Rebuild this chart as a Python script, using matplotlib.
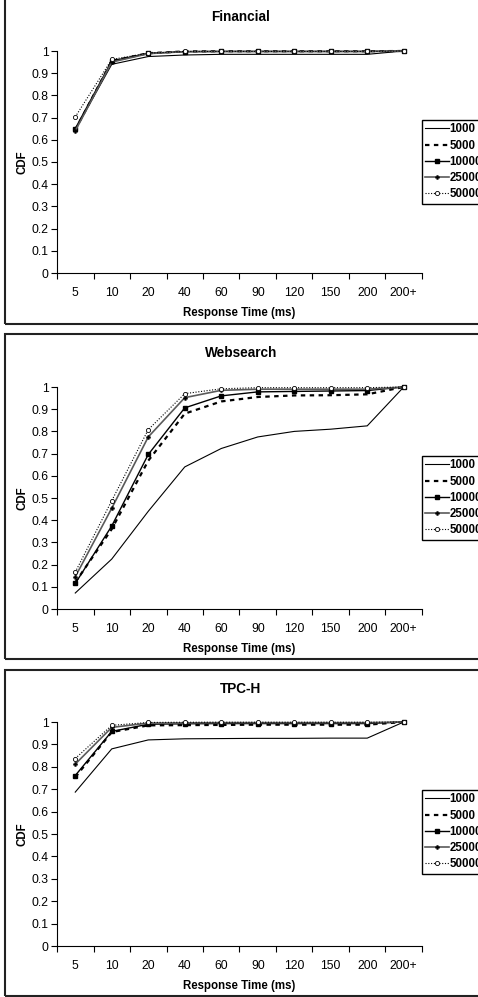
import matplotlib
matplotlib.use('Agg')
import matplotlib.pyplot as plt
from matplotlib.patches import Rectangle
import numpy as np

plt.rcParams['font.family'] = ['Liberation Sans', 'DejaVu Sans']

# categories on the x axis
cats = ['5', '10', '20', '40', '60', '90', '120', '150', '200', '200+']
series_names = ['1000', '5000', '10000', '25000', '50000']

# Financial
fin_1000 = [0.645, 0.940, 0.975, 0.982, 0.985, 0.985, 0.985, 0.985, 0.985, 1.0]
fin_5000 = [0.645, 0.955, 0.990, 0.998, 0.999, 0.999, 0.999, 0.999, 0.999, 1.0]
fin_10000 = [0.650, 0.955, 0.990, 0.997, 0.998, 0.998, 0.998, 0.998, 0.998, 1.0]
fin_25000 = [0.640, 0.950, 0.988, 0.997, 0.998, 0.998, 0.998, 0.998, 0.998, 1.0]
fin_50000 = [0.703, 0.962, 0.990, 0.998, 0.998, 0.998, 0.998, 0.998, 0.998, 1.0]

# Websearch
web_1000 = [0.072, 0.225, 0.440, 0.640, 0.723, 0.775, 0.800, 0.810, 0.825, 1.0]
web_5000 = [0.120, 0.360, 0.668, 0.880, 0.935, 0.955, 0.962, 0.963, 0.967, 1.0]
web_10000 = [0.115, 0.374, 0.696, 0.906, 0.960, 0.978, 0.980, 0.982, 0.984, 1.0]
web_25000 = [0.145, 0.454, 0.775, 0.952, 0.985, 0.990, 0.990, 0.990, 0.990, 1.0]
web_50000 = [0.166, 0.488, 0.808, 0.970, 0.992, 0.997, 0.997, 0.997, 0.997, 1.0]

# TPC-H
tpc_1000 = [0.687, 0.880, 0.920, 0.925, 0.926, 0.927, 0.927, 0.928, 0.928, 1.0]
tpc_5000 = [0.754, 0.955, 0.985, 0.986, 0.987, 0.988, 0.988, 0.988, 0.988, 1.0]
tpc_10000 = [0.761, 0.958, 0.990, 0.992, 0.993, 0.993, 0.993, 0.993, 0.993, 1.0]
tpc_25000 = [0.812, 0.976, 0.995, 0.996, 0.997, 0.997, 0.997, 0.997, 0.997, 1.0]
tpc_50000 = [0.837, 0.985, 0.998, 0.999, 0.999, 0.999, 0.999, 0.999, 0.999, 1.0]

panels = [
    ('Financial', [fin_1000, fin_5000, fin_10000, fin_25000, fin_50000]),
    ('Websearch', [web_1000, web_5000, web_10000, web_25000, web_50000]),
    ('TPC-H', [tpc_1000, tpc_5000, tpc_10000, tpc_25000, tpc_50000]),
]

W, H = 478, 997
fig = plt.figure(figsize=(W / 100, H / 100), dpi=100)

# pixel layout: (axes top, axes bottom, box top, box bottom, legend top, title y)
layout = [
    (51, 273, -5, 324, 120, 17),
    (387, 609, 334, 659, 456, 353),
    (722, 946, 670, 996, 790, 689),
]

styles = [
    dict(color='black', lw=0.8, ls='-'),
    dict(color='black', lw=1.6, ls=(0, (2, 2))),
    dict(color='black', lw=1.0, ls='-', marker='s', ms=2.8),
    dict(color='#5a5a5a', lw=1.2, ls='-', marker='P', ms=3, mfc='black', mec='black', mew=0.3),
    dict(color='black', lw=0.8, ls=(0, (1, 1.5)), marker='o', ms=3, mfc='white', mec='black', mew=0.6),
]

x = np.arange(len(cats))
left, right = 57, 422

for (title, data), (at, ab, bt, bb, lt, ty) in zip(panels, layout):
    # outer frame of each chart
    fig.patches.append(Rectangle((4.5 / W, 1 - bb / H), (W + 10) / W, (bb - bt) / H,
                                 transform=fig.transFigure, fill=False,
                                 ec='#222222', lw=1.5))
    ax = fig.add_axes([left / W, 1 - ab / H, (right - left) / W, (ab - at) / H])
    lines = []
    for name, vals, st in zip(series_names, data, styles):
        l, = ax.plot(x, vals, label=name, clip_on=False, **st)
        lines.append(l)
    ax.set_xlim(-0.5, len(cats) - 0.5)
    ax.set_ylim(0, 1)
    ax.set_yticks(np.arange(0, 1.01, 0.1))
    ax.set_yticklabels(['0'] + ['%.1f' % v for v in np.arange(0.1, 0.95, 0.1)] + ['1'])
    ax.set_xticks(x)
    ax.set_xticklabels(cats)
    ax.set_xticks(np.arange(-0.5, len(cats)), minor=True)
    ax.tick_params(axis='x', which='major', length=0, pad=10, labelsize=8.7)
    ax.tick_params(axis='x', which='minor', length=4, direction='out', width=0.8)
    ax.tick_params(axis='y', length=4, direction='out', width=0.8, labelsize=8.7, pad=2)
    for s in ['top', 'right']:
        ax.spines[s].set_visible(False)
    for s in ['left', 'bottom']:
        ax.spines[s].set_linewidth(0.8)
    fig.text((left + right) / 2 / W + 0.003, 1 - ty / H, title, fontsize=9.8,
             fontweight='bold', ha='center', va='center')
    ax.set_xlabel('Response Time (ms)', fontsize=8.3, fontweight='bold', labelpad=5.5)
    ax.set_ylabel('CDF', fontsize=8.3, fontweight='bold', labelpad=2)
    fig.legend(handles=lines, loc='upper left',
               bbox_to_anchor=(right / W, 1 - lt / H), bbox_transform=fig.transFigure,
               frameon=True, fancybox=False, edgecolor='black', framealpha=1,
               prop=dict(size=8.3, weight='bold'), handlelength=2.0, handletextpad=0.1,
               labelspacing=0.36, borderpad=0.3, borderaxespad=0)

fig.savefig('out.png', dpi=100)
